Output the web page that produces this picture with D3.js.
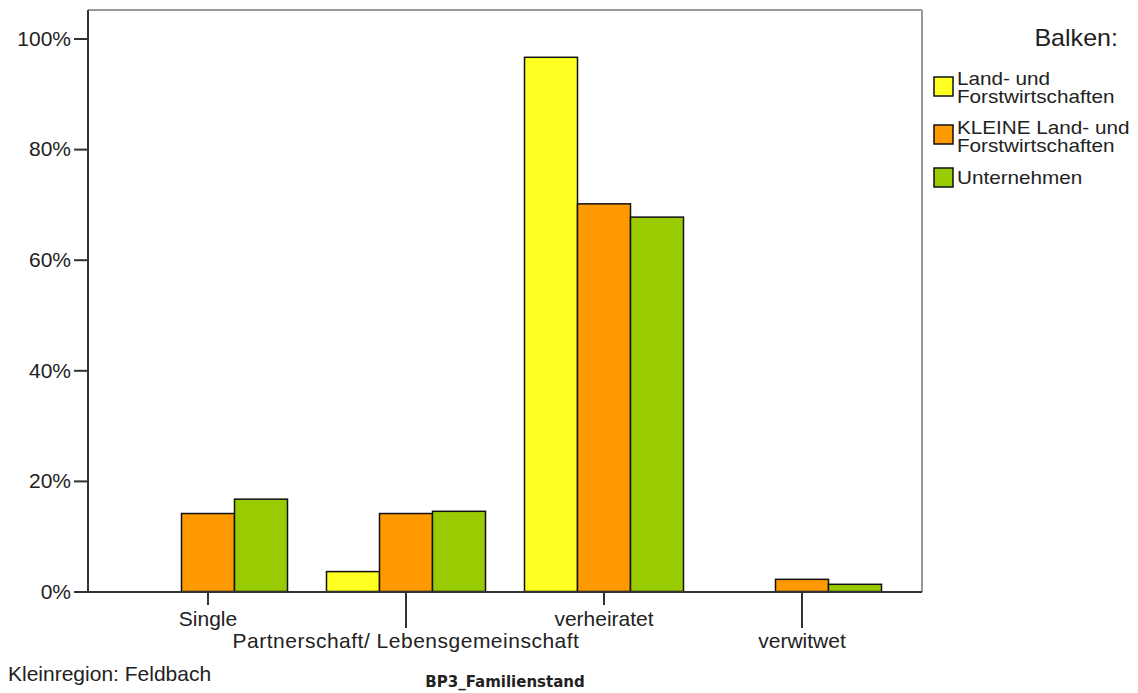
<!DOCTYPE html>
<html><head><meta charset="utf-8">
<script src="https://cdn.jsdelivr.net/npm/d3@7"></script>
<style>body{margin:0;background:#fff}svg{display:block}text{font-family:"Liberation Sans",Arial,sans-serif;fill:#222}</style>
</head><body>
<svg id="c" width="1138" height="693"></svg>
<script>
const categories = ["Single", "Partnerschaft/ Lebensgemeinschaft", "verheiratet", "verwitwet"];
const seriesNames = ["Land- und Forstwirtschaften", "KLEINE Land- und Forstwirtschaften", "Unternehmen"];
const legendLines = [["Land- und", "Forstwirtschaften"], ["KLEINE Land- und", "Forstwirtschaften"], ["Unternehmen"]];
const landForst = [0.0, 3.6, 96.6, 0.0];
const kleineLandForst = [14.1, 14.1, 70.1, 2.2];
const unternehmen = [16.7, 14.5, 67.7, 1.3];
const yTicks = [0, 20, 40, 60, 80, 100];
const colors = ["#ffff22", "#ff9900", "#99cc00"];
const series = [landForst, kleineLandForst, unternehmen];

const svg = d3.select("#c");
const pLeft = 88, pRight = 922, pTop = 10, pBottom = 592;
const x = d3.scaleBand().domain(categories).range([109, 901]);
const x1 = d3.scaleBand().domain(d3.range(3)).range([0, 159]);
const y = d3.scaleLinear().domain([0, 100]).range([591.5, 38.5]);

// frame
svg.append("line").attr("x1", pLeft).attr("x2", pRight).attr("y1", pTop).attr("y2", pTop).attr("stroke", "#999").attr("stroke-width", 2);
svg.append("line").attr("x1", pRight).attr("x2", pRight).attr("y1", pTop).attr("y2", pBottom).attr("stroke", "#999").attr("stroke-width", 2);

// bars
categories.forEach((c, i) => {
  const gx = x(c) + (x.bandwidth() - 159) / 2;
  series.forEach((s, j) => {
    svg.append("rect")
      .attr("x", gx + x1(j)).attr("width", x1.bandwidth())
      .attr("y", y(s[i])).attr("height", y(0) - y(s[i]))
      .attr("fill", colors[j]).attr("stroke", "#111").attr("stroke-width", 1.5);
  });
});

// y axis
const yAxis = d3.axisLeft(y).tickValues(yTicks).tickFormat(d => d + "%").tickSize(14).tickPadding(3);
const ga = svg.append("g").attr("transform", `translate(${pLeft},0)`).call(yAxis);
ga.select(".domain").attr("stroke", "#333").attr("stroke-width", 2).attr("d", `M0,${pTop}V${pBottom}`);
ga.selectAll(".tick line").attr("stroke", "#333").attr("stroke-width", 2);
ga.selectAll(".tick text").attr("font-size", 21).attr("fill", "#222").attr("font-family", "Liberation Sans, Arial, sans-serif");

// x baseline
svg.append("line").attr("x1", pLeft).attr("x2", pRight).attr("y1", pBottom).attr("y2", pBottom).attr("stroke", "#333").attr("stroke-width", 2);

// x ticks and staggered labels
const xAxis = d3.axisBottom(x).tickSizeOuter(0);
const gxa = svg.append("g").attr("transform", `translate(0,${pBottom})`).call(xAxis);
gxa.select(".domain").remove();
gxa.selectAll(".tick line").attr("stroke", "#333").attr("stroke-width", 2).attr("y2", (d, i) => i % 2 ? 36 : 13);
gxa.selectAll(".tick text").attr("font-size", 21).attr("fill", "#222").attr("font-family", "Liberation Sans, Arial, sans-serif")
  .attr("dy", null).attr("y", (d, i) => i % 2 ? 56 : 34)
  .style("letter-spacing", (d, i) => i === 1 ? "0.5px" : null);

// footnotes
svg.append("text").attr("x", 8).attr("y", 681).attr("font-size", 21).text("Kleinregion: Feldbach");
svg.append("text").attr("x", 505).attr("y", 687).attr("text-anchor", "middle").attr("font-size", 15).attr("font-weight", "bold")
  .style("font-family", "DejaVu Sans").attr("fill", "#222").text("BP3_Familienstand");

// legend
svg.append("text").attr("x", 1118).attr("y", 46).attr("text-anchor", "end").attr("font-size", 23)
  .attr("transform", "translate(1118,0) scale(1.09,1) translate(-1118,0)").text("Balken:");
const swY = [77, 125, 168];
const txY = [[85, 103], [134, 152], [184]];
seriesNames.forEach((n, j) => {
  svg.append("rect").attr("x", 934).attr("y", swY[j]).attr("width", 19).attr("height", 19)
    .attr("fill", colors[j]).attr("stroke", "#111").attr("stroke-width", 1.5);
  legendLines[j].forEach((l, k) => {
    svg.append("text").attr("x", 957).attr("y", txY[j][k]).attr("font-size", 18)
      .attr("transform", `translate(957,0) scale(1.15,1) translate(-957,0)`).text(l);
  });
});
</script>
</body></html>
